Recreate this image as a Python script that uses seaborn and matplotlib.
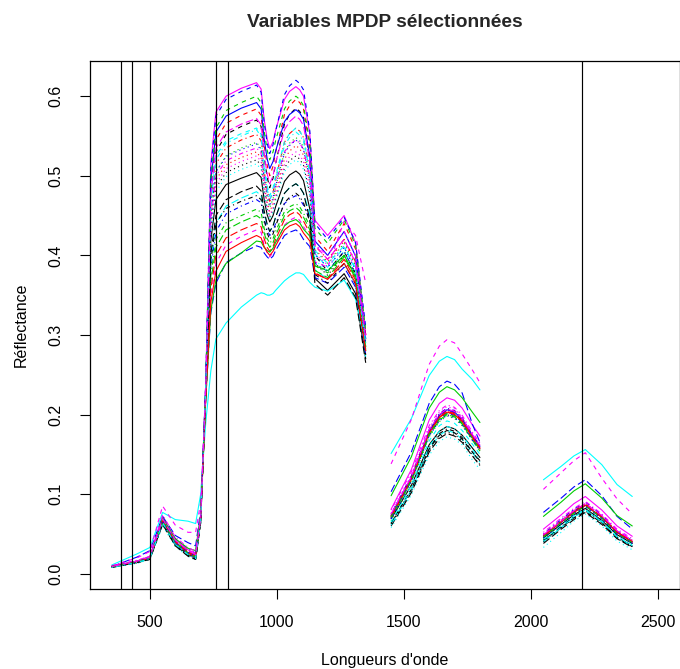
import numpy as np
import pandas as pd
import matplotlib
matplotlib.use("Agg")
import matplotlib.pyplot as plt
import seaborn as sns

# wavelengths (nm) of the three measured ranges (water bands removed)
wl_a = [350, 450, 500, 550, 600, 650, 680, 700, 720, 740,
        760, 800, 860, 920, 938, 950, 962, 972, 985, 995, 1030,
        1050, 1075, 1090, 1105, 1130, 1150, 1200, 1265, 1310, 1350]
wl_b = [1450, 1530, 1600, 1640, 1670, 1700, 1730, 1770, 1800]
wl_c = [2050, 2120, 2170, 2215, 2280, 2340, 2400]

# reflectance x 1000 for each spectrum : visible, near infrared, then the two SWIR ranges
s00 = [9, 15, 20, 66, 38, 25, 20, 68, 230, 419,
       470, 489, 497, 504, 498, 470, 451, 442, 450, 461, 493, 501, 506, 502, 494, 458, 371, 356, 377, 352, 270,
       69, 111, 162, 179, 185, 182, 174, 158, 146, 45, 62, 74, 82, 67, 49, 38]
s01 = [9, 15, 19, 65, 37, 24, 19, 66, 238, 484,
       545, 566, 576, 584, 576, 538, 513, 500, 512, 529, 577, 588, 596, 592, 584, 535, 424, 405, 440, 408, 300,
       72, 120, 178, 198, 205, 202, 193, 172, 158, 47, 65, 77, 86, 71, 52, 40]
s02 = [8, 14, 19, 64, 36, 24, 19, 66, 234, 449,
       505, 525, 535, 542, 534, 497, 472, 460, 471, 486, 530, 541, 548, 544, 536, 497, 406, 390, 415, 387, 295,
       66, 114, 172, 191, 198, 195, 186, 168, 155, 44, 62, 75, 84, 69, 50, 38]
s03 = [9, 16, 21, 70, 44, 31, 26, 72, 226, 384,
       430, 452, 462, 470, 466, 445, 432, 425, 431, 440, 465, 471, 475, 471, 463, 445, 390, 380, 405, 377, 285,
       75, 123, 181, 201, 208, 205, 196, 174, 160, 50, 68, 81, 90, 74, 54, 42]
s04 = [9, 15, 20, 68, 40, 27, 23, 70, 227, 393,
       440, 462, 472, 480, 475, 452, 438, 430, 437, 448, 478, 485, 490, 486, 478, 452, 382, 370, 390, 363, 272,
       63, 105, 157, 174, 180, 177, 169, 152, 140, 40, 58, 71, 80, 65, 46, 35]
s05 = [10, 16, 22, 72, 43, 30, 26, 72, 241, 515,
       580, 600, 610, 617, 609, 571, 546, 534, 543, 557, 596, 606, 612, 608, 600, 552, 444, 425, 450, 416, 300,
       81, 131, 193, 214, 221, 218, 208, 187, 173, 56, 74, 88, 97, 80, 60, 47]
s06 = [8, 14, 18, 63, 36, 23, 18, 65, 236, 471,
       530, 552, 562, 570, 562, 523, 498, 485, 497, 515, 565, 577, 585, 581, 573, 519, 400, 380, 405, 377, 285,
       64, 106, 157, 174, 180, 177, 169, 153, 142, 42, 58, 70, 78, 64, 45, 34]
s07 = [9, 15, 20, 66, 39, 26, 21, 68, 232, 441,
       495, 514, 523, 530, 522, 489, 466, 455, 465, 480, 521, 531, 538, 534, 526, 491, 407, 392, 418, 390, 295,
       70, 117, 174, 193, 200, 197, 188, 168, 155, 46, 64, 76, 85, 70, 50, 39]
s08 = [9, 16, 21, 69, 42, 29, 24, 70, 225, 375,
       420, 441, 450, 458, 454, 434, 421, 415, 421, 430, 455, 461, 465, 461, 453, 437, 387, 378, 400, 372, 280,
       72, 119, 177, 196, 203, 200, 191, 170, 156, 48, 66, 78, 87, 72, 52, 41]
s09 = [9, 21, 29, 72, 48, 39, 35, 80, 220, 328,
       365, 391, 403, 412, 410, 403, 398, 395, 399, 406, 425, 429, 432, 428, 420, 411, 372, 365, 385, 360, 275,
       103, 153, 214, 235, 242, 238, 227, 188, 165, 77, 95, 109, 118, 98, 72, 56]
s10 = [11, 25, 33, 77, 68, 66, 63, 100, 190, 255,
       295, 315, 335, 350, 353, 352, 350, 350, 352, 356, 368, 373, 378, 378, 376, 366, 360, 355, 369, 345, 285,
       151, 195, 249, 267, 273, 269, 257, 244, 231, 118, 135, 148, 156, 137, 112, 97]
s11 = [10, 20, 28, 85, 61, 52, 52, 90, 222, 349,
       390, 413, 424, 432, 429, 413, 403, 398, 404, 413, 438, 444, 448, 444, 436, 425, 392, 385, 443, 425, 365,
       138, 194, 263, 286, 294, 290, 276, 256, 240, 106, 127, 142, 152, 120, 94, 75]
s12 = [8, 14, 19, 63, 36, 24, 19, 65, 232, 432,
       485, 504, 513, 520, 513, 480, 459, 448, 457, 471, 510, 519, 525, 521, 513, 477, 390, 375, 400, 374, 285,
       62, 104, 155, 172, 178, 175, 167, 149, 137, 40, 58, 70, 79, 64, 45, 34]
s13 = [9, 15, 20, 67, 40, 27, 22, 69, 234, 458,
       515, 535, 545, 552, 544, 506, 481, 468, 479, 496, 542, 553, 560, 556, 548, 507, 412, 395, 420, 392, 300,
       74, 122, 180, 200, 207, 204, 195, 174, 160, 49, 66, 79, 88, 72, 53, 41]
s14 = [9, 15, 20, 68, 41, 28, 23, 70, 224, 367,
       410, 432, 442, 450, 446, 428, 416, 410, 416, 425, 450, 456, 460, 456, 448, 432, 381, 372, 398, 371, 282,
       70, 117, 174, 193, 200, 197, 188, 168, 154, 47, 65, 77, 86, 71, 52, 40]
s15 = [9, 15, 20, 67, 39, 26, 21, 68, 238, 493,
       555, 575, 585, 592, 584, 546, 521, 509, 518, 531, 568, 577, 583, 579, 571, 524, 418, 400, 430, 399, 295,
       73, 121, 179, 199, 206, 203, 194, 174, 160, 48, 65, 78, 86, 71, 52, 40]
s16 = [8, 14, 19, 64, 37, 25, 20, 67, 236, 467,
       525, 544, 553, 560, 552, 513, 488, 475, 485, 500, 543, 553, 560, 556, 548, 504, 402, 385, 410, 382, 290,
       65, 111, 167, 186, 192, 189, 180, 163, 150, 43, 60, 73, 81, 66, 47, 36]
s17 = [9, 16, 21, 70, 43, 30, 25, 71, 232, 436,
       490, 509, 518, 525, 518, 484, 461, 450, 460, 474, 514, 524, 530, 526, 518, 485, 402, 388, 412, 384, 290,
       76, 124, 183, 203, 210, 207, 197, 176, 162, 50, 68, 80, 89, 73, 54, 42]
s18 = [8, 14, 19, 64, 37, 24, 19, 66, 227, 393,
       440, 459, 468, 475, 470, 445, 428, 420, 427, 437, 466, 473, 478, 474, 466, 442, 376, 365, 390, 364, 275,
       63, 106, 158, 176, 182, 179, 171, 153, 141, 42, 59, 72, 80, 65, 46, 35]
s19 = [9, 15, 20, 68, 41, 28, 23, 70, 223, 358,
       400, 422, 432, 440, 436, 421, 410, 405, 411, 420, 445, 451, 455, 451, 443, 428, 378, 370, 395, 369, 280,
       71, 119, 177, 197, 204, 201, 192, 172, 158, 48, 66, 79, 88, 72, 53, 41]
s20 = [9, 16, 21, 70, 44, 32, 29, 75, 220, 331,
       369, 390, 403, 418, 417, 410, 406, 404, 409, 416, 437, 442, 445, 441, 433, 424, 387, 381, 400, 374, 285,
       98, 147, 208, 228, 235, 231, 221, 203, 190, 72, 90, 104, 113, 95, 73, 60]
s21 = [9, 15, 20, 66, 38, 25, 20, 67, 240, 510,
       575, 596, 606, 614, 605, 567, 541, 528, 539, 556, 602, 613, 620, 616, 608, 556, 440, 420, 448, 416, 310,
       70, 118, 176, 195, 202, 199, 190, 170, 157, 47, 64, 77, 85, 70, 50, 39]
s22 = [8, 13, 18, 60, 34, 22, 17, 63, 231, 428,
       480, 499, 508, 515, 508, 476, 456, 445, 454, 468, 505, 514, 520, 516, 508, 475, 394, 380, 405, 376, 280,
       58, 99, 149, 166, 172, 169, 162, 143, 131, 33, 52, 66, 75, 60, 41, 30]
s23 = [10, 17, 22, 74, 46, 33, 28, 73, 233, 445,
       500, 519, 528, 535, 528, 499, 480, 470, 479, 492, 530, 539, 545, 541, 533, 499, 414, 400, 430, 400, 300,
       80, 128, 186, 205, 212, 209, 199, 178, 164, 52, 70, 82, 91, 75, 56, 44]
s24 = [8, 14, 18, 62, 35, 22, 18, 64, 228, 402,
       450, 470, 480, 487, 481, 456, 439, 430, 437, 448, 478, 485, 490, 486, 478, 445, 364, 350, 372, 347, 265,
       60, 102, 153, 170, 176, 173, 165, 148, 136, 38, 56, 68, 77, 62, 44, 33]
s25 = [9, 15, 20, 67, 40, 26, 21, 68, 221, 341,
       380, 405, 416, 425, 422, 411, 404, 400, 405, 412, 432, 437, 440, 436, 428, 418, 377, 370, 390, 365, 280,
       72, 119, 177, 196, 203, 200, 191, 171, 157, 47, 65, 77, 86, 71, 52, 40]
s26 = [9, 15, 20, 66, 39, 26, 21, 68, 239, 497,
       560, 582, 592, 600, 592, 556, 532, 520, 530, 544, 584, 594, 600, 596, 588, 541, 434, 415, 445, 413, 305,
       71, 118, 175, 194, 201, 198, 189, 170, 156, 46, 64, 76, 85, 70, 50, 39]
s27 = [9, 15, 20, 67, 40, 27, 22, 69, 234, 449,
       505, 524, 533, 540, 532, 497, 474, 462, 472, 487, 528, 538, 545, 541, 533, 494, 401, 385, 410, 382, 290,
       69, 116, 173, 192, 199, 196, 187, 168, 155, 45, 62, 75, 84, 69, 50, 38]
s28 = [8, 14, 19, 64, 37, 24, 19, 66, 235, 462,
       520, 541, 550, 558, 549, 510, 483, 470, 480, 496, 538, 548, 555, 551, 543, 502, 406, 390, 412, 384, 290,
       61, 106, 160, 179, 185, 182, 174, 156, 143, 41, 58, 71, 80, 65, 46, 35]
s29 = [9, 16, 21, 69, 42, 29, 24, 70, 236, 475,
       535, 555, 565, 572, 564, 527, 502, 490, 500, 516, 558, 568, 575, 571, 563, 517, 413, 395, 420, 391, 295,
       75, 122, 181, 200, 207, 204, 195, 175, 161, 49, 66, 79, 88, 73, 54, 42]

spectra = [s00, s01, s02, s03, s04, s05, s06, s07, s08, s09,
           s10, s11, s12, s13, s14, s15, s16, s17, s18, s19,
           s20, s21, s22, s23, s24, s25, s26, s27, s28, s29]

# selected MPDP variables (nm)
selected = [388, 430, 500, 760, 806, 2202]

# R default palette / line types, recycled like matplot
r_cols = ["black", "#FF0000", "#00CD00", "#0000FF", "#00FFFF", "#FF00FF"]
r_lty = ["", (4, 4), (1, 3), (1, 3, 4, 3), (7, 3)]

rows = []
na, nb = len(wl_a), len(wl_b)
for i, s in enumerate(spectra):
    name = "s%02d" % i
    v = np.array(s) / 1000
    for seg, wl, vals in [("A", wl_a, v[:na]), ("B", wl_b, v[na:na + nb]), ("C", wl_c, v[na + nb:])]:
        for w, r in zip(wl, vals):
            rows.append((name, seg, w, r))
df = pd.DataFrame(rows, columns=["spectre", "segment", "wl", "refl"])

names = ["s%02d" % i for i in range(len(spectra))]
pal = {n: r_cols[i % 6] for i, n in enumerate(names)}
dsh = {n: r_lty[i % 5] for i, n in enumerate(names)}

sns.set_theme(style="ticks")
plt.rcParams['font.family'] = ['Liberation Sans', 'DejaVu Sans']

fig = plt.figure(figsize=(6.8, 6.69), dpi=100)
ax = fig.add_axes([90 / 680, 79.7 / 669, 589.5 / 680, 528.6 / 669])

sns.lineplot(data=df, x="wl", y="refl", hue="spectre", style="spectre", units="segment",
             estimator=None, sort=False, palette=pal, dashes=dsh, legend=False,
             linewidth=0.8, ax=ax)

for x in selected:
    ax.axvline(x, color="black", lw=0.85)

ax.set_xlim(264, 2586)
ax.set_ylim(-0.0196, 0.6446)
ax.set_xticks([500, 1000, 1500, 2000, 2500])
ax.set_yticks([0.0, 0.1, 0.2, 0.3, 0.4, 0.5, 0.6])
ax.set_yticklabels(["0.0", "0.1", "0.2", "0.3", "0.4", "0.5", "0.6"])
for sp in ax.spines.values():
    sp.set_color("black")
    sp.set_linewidth(0.9)
    sp.set_visible(True)
ax.tick_params(direction="out", length=7.5, width=0.8, color="black",
               labelsize=11.5, labelcolor="black")
ax.tick_params(axis="x", pad=11)
ax.tick_params(axis="y", pad=12)
for lab in ax.get_yticklabels():
    lab.set_rotation(90)
    lab.set_va("center")

ax.set_xlabel("Longueurs d'onde", fontsize=11.5, color="black")
ax.set_ylabel("Réflectance", fontsize=11.5, color="black")
ax.xaxis.set_label_coords(0.5, -0.12)
ax.yaxis.set_label_coords(-0.1035, 0.5)
ax.set_title("Variables MPDP sélectionnées", fontsize=13.8, fontweight="bold",
             y=1.0637, pad=0)

fig.savefig("out.png", dpi=100)
